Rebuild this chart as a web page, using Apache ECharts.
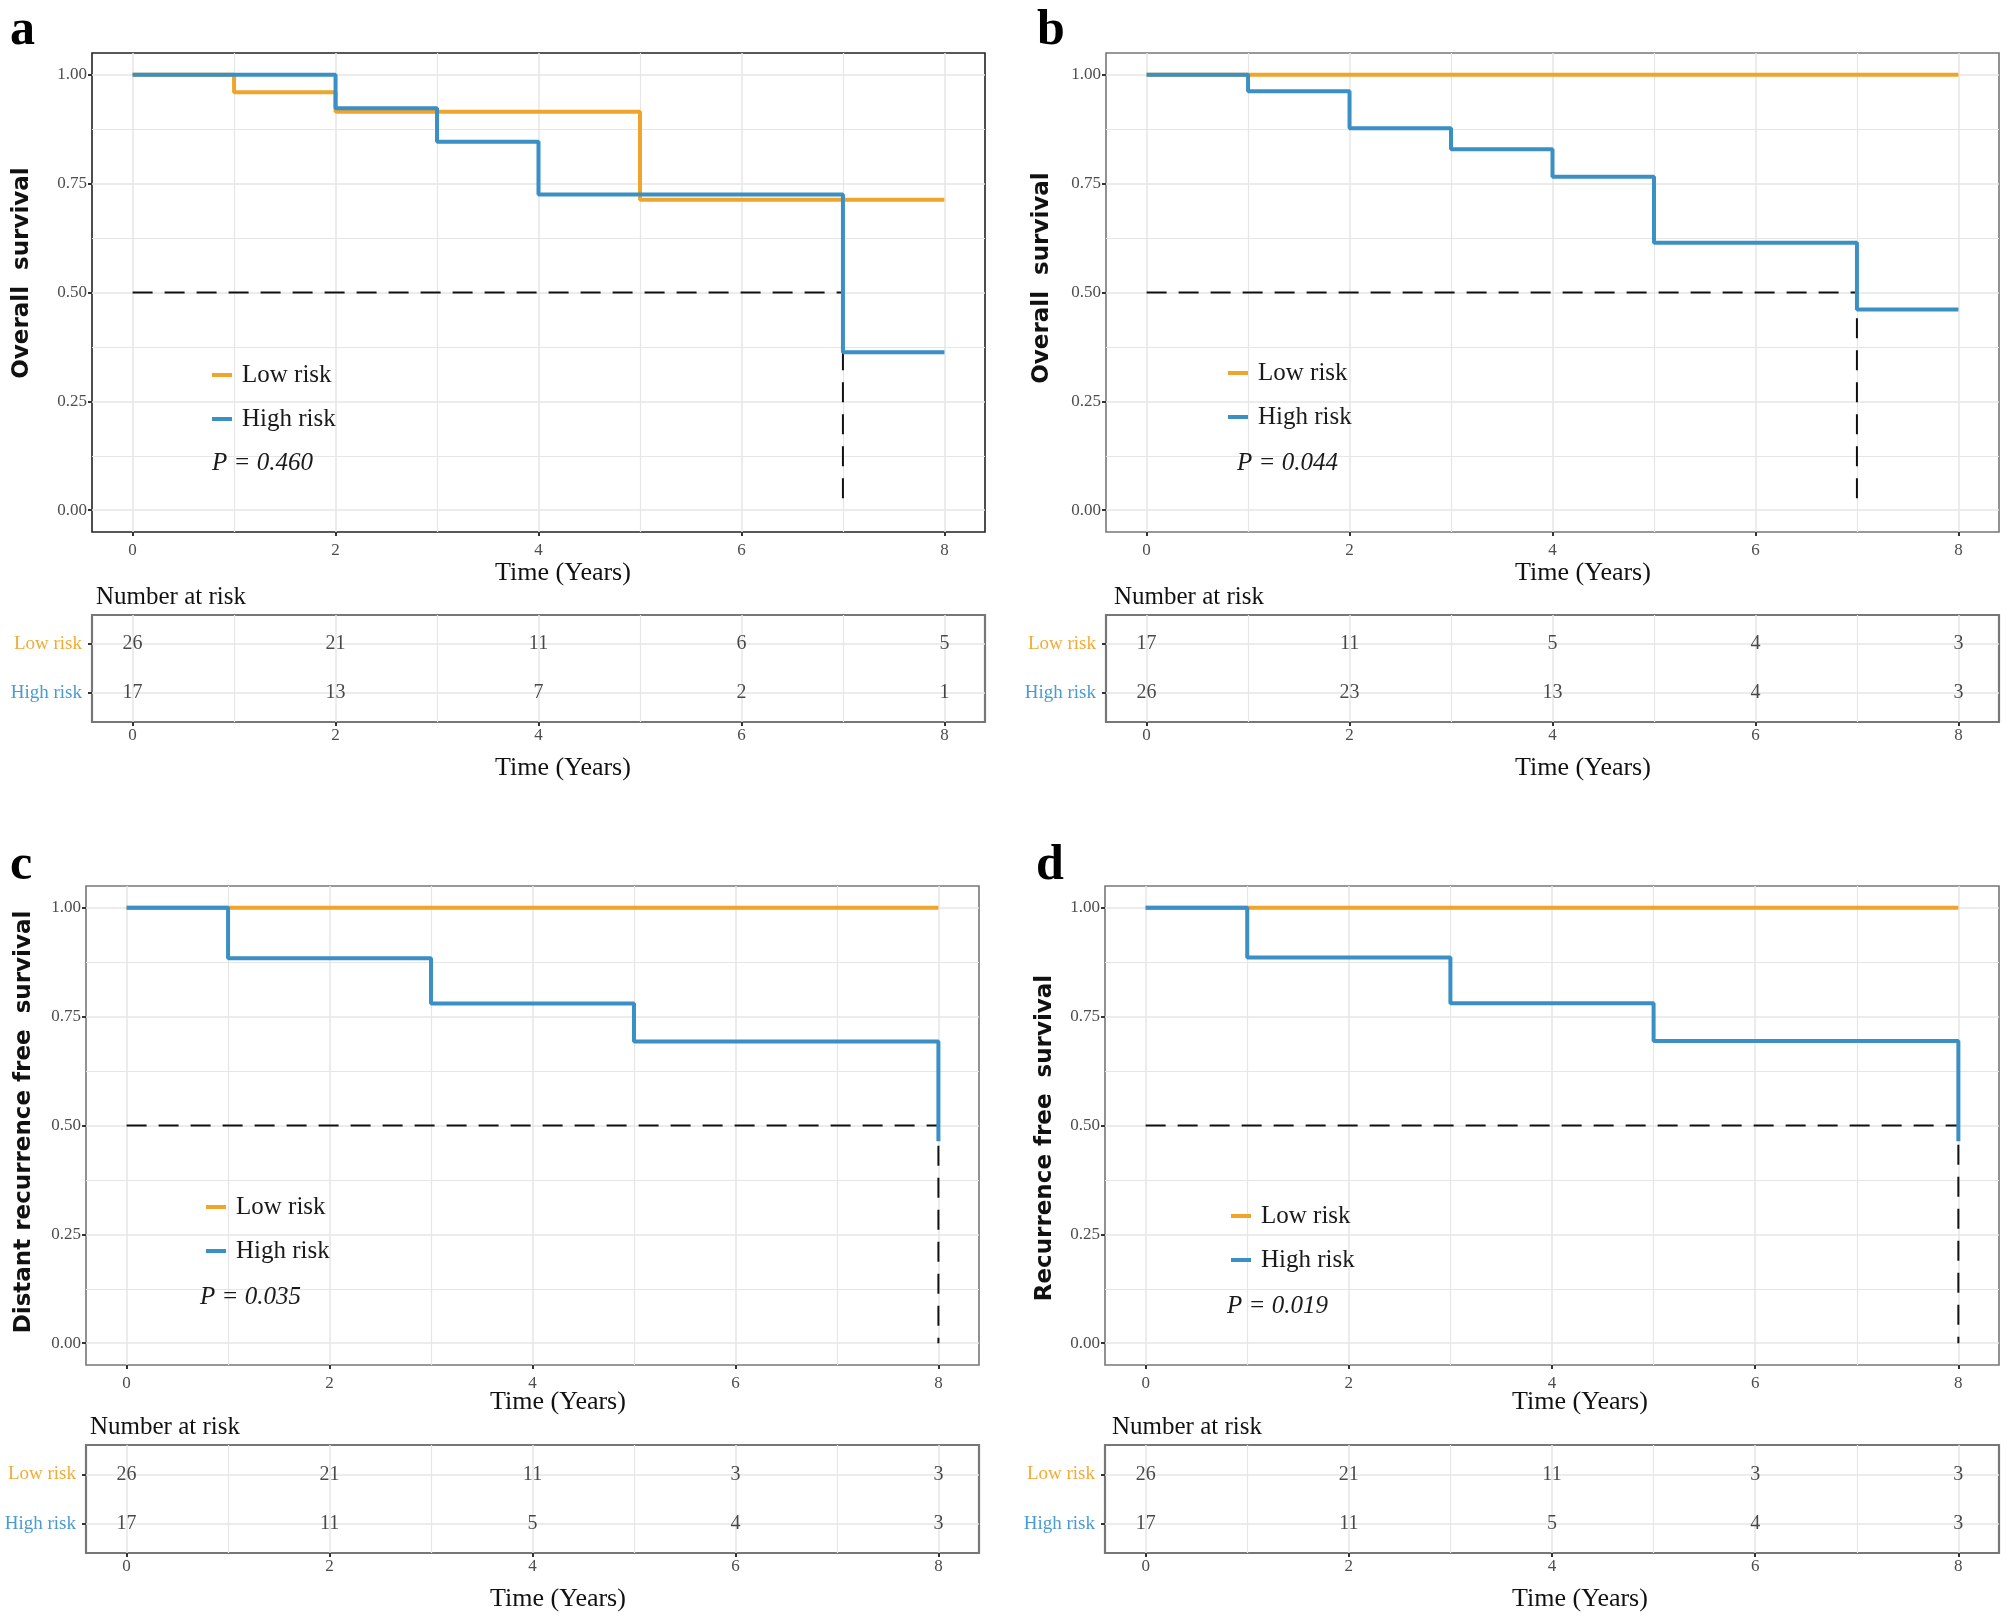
<!DOCTYPE html>
<html><head><meta charset="utf-8">
<script src="https://cdn.jsdelivr.net/npm/echarts@6/dist/echarts.min.js"></script>
<style>html,body{margin:0;padding:0;background:#fff}#c{width:2007px;height:1619px}</style>
</head><body><div id="c"></div>
<script>
// ---------- tick values ----------
const timeTicks = [0, 2, 4, 6, 8];
const timeMinor = [1, 3, 5, 7];
const survTicks = [0, 0.25, 0.5, 0.75, 1];
const survMinor = [0.125, 0.375, 0.625, 0.875];
const riskTimes = [0, 2, 4, 6, 8];

// ---------- texts ----------
const panelLetters = ['a', 'b', 'c', 'd'];
const yTitles = ['Overall  survival', 'Overall  survival', 'Distant recurrence free  survival', 'Recurrence free  survival'];
const pValues = ['P = 0.460', 'P = 0.044', 'P = 0.035', 'P = 0.019'];

// ---------- survival curves [time, survival] ----------
const lowA = [[0, 1], [1, 0.960], [2, 0.915], [5, 0.713], [8, 0.713]];
const highA = [[0, 1], [2, 0.923], [3, 0.846], [4, 0.725], [7, 0.363], [8, 0.363]];
const medianA = [[0, 0.5], [7, 0.5], [7, 0]];

const lowB = [[0, 1], [8, 1]];
const highB = [[0, 1], [1, 0.962], [2, 0.877], [3, 0.829], [4, 0.766], [5, 0.614], [7, 0.461], [8, 0.461]];
const medianB = [[0, 0.5], [7, 0.5], [7, 0]];

const lowC = [[0, 1], [8, 1]];
const highC = [[0, 1], [1, 0.884], [3, 0.780], [5, 0.693], [8, 0.464]];
const medianC = [[0, 0.5], [8, 0.5], [8, 0]];

const lowD = [[0, 1], [8, 1]];
const highD = [[0, 1], [1, 0.886], [3, 0.781], [5, 0.694], [8, 0.464]];
const medianD = [[0, 0.5], [8, 0.5], [8, 0]];

// ---------- number at risk ----------
const riskLowA = [26, 21, 11, 6, 5];
const riskHighA = [17, 13, 7, 2, 1];
const riskLowB = [17, 11, 5, 4, 3];
const riskHighB = [26, 23, 13, 4, 3];
const riskLowC = [26, 21, 11, 3, 3];
const riskHighC = [17, 11, 5, 4, 3];
const riskLowD = [26, 21, 11, 3, 3];
const riskHighD = [17, 11, 5, 4, 3];

const panels = [
  {low: lowA, high: highA, med: medianA, rl: riskLowA, rh: riskHighA},
  {low: lowB, high: highB, med: medianB, rl: riskLowB, rh: riskHighB},
  {low: lowC, high: highC, med: medianC, rl: riskLowC, rh: riskHighC},
  {low: lowD, high: highD, med: medianD, rl: riskLowD, rh: riskHighD}
];

// ---------- layout ----------
const ORANGE = '#EFA52B', BLUE = '#3A8FC4';
const SERIF = 'Liberation Serif';
const layout = [
  {plot: [92, 53, 893, 479], risk: [92, 615, 893, 107], border: '#222',
   letter: [10, 6], ytitle: [22, 273], xt1: [563, 573], nar: [96, 597], xt2: [563, 768],
   leg: [212, 362], p: [212, 463]},
  {plot: [1106, 53, 893, 479], risk: [1106, 615, 893, 107], border: '#777',
   letter: [1037, 6], ytitle: [1042, 278], xt1: [1583, 573], nar: [1114, 597], xt2: [1583, 768],
   leg: [1228, 360], p: [1237, 463]},
  {plot: [86, 886, 893, 479], risk: [86, 1445, 893, 108], border: '#777',
   letter: [10, 841], ytitle: [24, 1122], xt1: [558, 1402], nar: [90, 1427], xt2: [558, 1599],
   leg: [206, 1194], p: [200, 1297]},
  {plot: [1105, 886, 894, 479], risk: [1105, 1445, 894, 108], border: '#777',
   letter: [1036, 841], ytitle: [1045, 1138], xt1: [1580, 1402], nar: [1112, 1427], xt2: [1580, 1599],
   leg: [1231, 1203], p: [1227, 1306]}
];

const grids = [], xAxes = [], yAxes = [], series = [], legends = [], graphics = [];
const tickLabel = {fontFamily: SERIF, fontSize: 17, color: '#4d4d4d'};
const gridColor = '#e6e6e6';

function addXAxes(g, margin) {
  xAxes.push({gridIndex: g, type: 'value', min: -0.4, max: 8.4, position: 'bottom',
    axisLine: {show: false, onZero: false},
    axisTick: {show: true, customValues: timeTicks, length: 4, lineStyle: {color: '#333', width: 2}},
    axisLabel: Object.assign({customValues: timeTicks, margin: margin}, tickLabel),
    splitLine: {show: true, lineStyle: {color: gridColor, width: 1.5}}});
  xAxes.push({gridIndex: g, type: 'value', min: -0.4, max: 8.4, position: 'bottom',
    axisLine: {show: false, onZero: false}, axisTick: {show: false, customValues: timeMinor},
    axisLabel: {show: false, customValues: timeMinor},
    splitLine: {show: true, lineStyle: {color: gridColor, width: 1.2}}});
}

layout.forEach((L, i) => {
  const P = panels[i];
  const gPlot = grids.length;
  grids.push({left: L.plot[0], top: L.plot[1], width: L.plot[2], height: L.plot[3],
    show: true, borderColor: L.border, borderWidth: 1.6, backgroundColor: '#fff', outerBoundsMode: 'none', containLabel: false});
  const gRisk = grids.length;
  grids.push({left: L.risk[0], top: L.risk[1], width: L.risk[2], height: L.risk[3],
    show: true, borderColor: '#777', borderWidth: 2.2, backgroundColor: '#fff', outerBoundsMode: 'none', containLabel: false});

  const xPlot = xAxes.length; addXAxes(gPlot, 10);
  const xRisk = xAxes.length; addXAxes(gRisk, 5);

  const yPlot = yAxes.length;
  yAxes.push({gridIndex: gPlot, type: 'value', min: -0.05, max: 1.05, position: 'left',
    axisLine: {show: false, onZero: false},
    axisTick: {show: true, customValues: survTicks, length: 4, lineStyle: {color: '#333', width: 2}},
    axisLabel: Object.assign({customValues: survTicks, margin: 5, formatter: v => v.toFixed(2)}, tickLabel),
    splitLine: {show: true, lineStyle: {color: gridColor, width: 1.5}}});
  yAxes.push({gridIndex: gPlot, type: 'value', min: -0.05, max: 1.05, position: 'left',
    axisLine: {show: false, onZero: false}, axisTick: {show: false, customValues: survMinor},
    axisLabel: {show: false, customValues: survMinor},
    splitLine: {show: true, lineStyle: {color: gridColor, width: 1.2}}});
  const yRisk = yAxes.length;
  yAxes.push({gridIndex: gRisk, type: 'value', min: 0.4, max: 2.6, position: 'left',
    axisLine: {show: false, onZero: false},
    axisTick: {show: true, customValues: [1, 2], length: 4, lineStyle: {color: '#333', width: 2}},
    axisLabel: {customValues: [1, 2], margin: 10,
      formatter: v => v === 2 ? '{lo|Low risk}' : '{hi|High risk}',
      rich: {lo: {color: '#F2AB35', fontFamily: SERIF, fontSize: 19},
             hi: {color: '#4A9BD3', fontFamily: SERIF, fontSize: 19}}},
    splitLine: {show: true, lineStyle: {color: gridColor, width: 1.5}}});

  series.push({name: 'median', type: 'line', xAxisIndex: xPlot, yAxisIndex: yPlot, data: P.med,
    symbol: 'none', z: 3, lineStyle: {color: '#111', width: 2, type: [20, 12]}, silent: true});
  series.push({name: 'Low risk', type: 'line', step: 'end', xAxisIndex: xPlot, yAxisIndex: yPlot, data: P.low,
    symbol: 'none', z: 4, itemStyle: {color: ORANGE}, lineStyle: {color: ORANGE, width: 4}});
  series.push({name: 'High risk', type: 'line', step: 'end', xAxisIndex: xPlot, yAxisIndex: yPlot, data: P.high,
    symbol: 'none', z: 5, itemStyle: {color: BLUE}, lineStyle: {color: BLUE, width: 4}});

  const riskLabel = {show: true, position: 'inside', fontFamily: SERIF, fontSize: 20, color: '#1a1a1a',
    formatter: p => String(p.value[2])};
  series.push({name: 'risk-low', type: 'scatter', xAxisIndex: xRisk, yAxisIndex: yRisk,
    data: riskTimes.map((t, k) => [t, 2, P.rl[k]]), symbolSize: 1,
    itemStyle: {color: 'rgba(0,0,0,0)'}, label: riskLabel, silent: true});
  series.push({name: 'risk-high', type: 'scatter', xAxisIndex: xRisk, yAxisIndex: yRisk,
    data: riskTimes.map((t, k) => [t, 1, P.rh[k]]), symbolSize: 1,
    itemStyle: {color: 'rgba(0,0,0,0)'}, label: riskLabel, silent: true});

  legends.push({data: ['Low risk', 'High risk'], orient: 'vertical', left: L.leg[0], top: L.leg[1],
    icon: 'rect', itemWidth: 20, itemHeight: 4, itemGap: 18, padding: 0, selectedMode: false,
    textStyle: {fontFamily: SERIF, fontSize: 25, color: '#1a1a1a', lineHeight: 26, padding: [0, 0, 0, 5]}});

  graphics.push({type: 'text', x: L.letter[0], y: L.letter[1],
    style: {text: panelLetters[i], font: 'bold 50px "Liberation Serif"', fill: '#000', align: 'left', verticalAlign: 'top'}});
  graphics.push({type: 'text', x: L.ytitle[0], y: L.ytitle[1], rotation: Math.PI / 2,
    style: {text: yTitles[i], font: 'bold 23px "DejaVu Sans"', fill: '#111', align: 'center', verticalAlign: 'middle'}});
  graphics.push({type: 'text', x: L.xt1[0], y: L.xt1[1],
    style: {text: 'Time (Years)', font: '26px "Liberation Serif"', fill: '#111', align: 'center', verticalAlign: 'middle'}});
  graphics.push({type: 'text', x: L.xt2[0], y: L.xt2[1],
    style: {text: 'Time (Years)', font: '26px "Liberation Serif"', fill: '#111', align: 'center', verticalAlign: 'middle'}});
  graphics.push({type: 'text', x: L.nar[0], y: L.nar[1],
    style: {text: 'Number at risk', font: '25px "Liberation Serif"', fill: '#111', align: 'left', verticalAlign: 'middle'}});
  graphics.push({type: 'text', x: L.p[0], y: L.p[1], z: 10,
    style: {text: pValues[i], font: 'italic 25px "Liberation Serif"', fill: '#1a1a1a', align: 'left', verticalAlign: 'middle'}});
});

const chart = echarts.init(document.getElementById('c'), null, {renderer: 'canvas'});
chart.setOption({
  backgroundColor: '#fff',
  animation: false,
  grid: grids, xAxis: xAxes, yAxis: yAxes, series: series, legend: legends,
  graphic: {elements: graphics}
});
</script></body></html>
